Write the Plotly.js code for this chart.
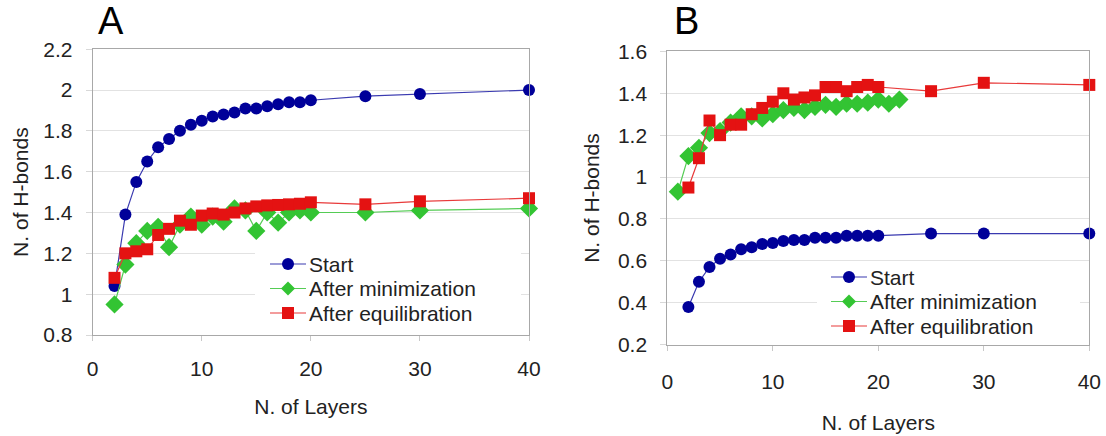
<!DOCTYPE html>
<html>
<head>
<meta charset="utf-8">
<script src="https://cdn.plot.ly/plotly-3.0.1.min.js"></script>
<style>html,body{margin:0;padding:0;background:#fff;}#chart{width:1106px;height:436px;}</style>
</head>
<body>
<div id="chart"></div>
<script>
// ---- Data ----
const seriesNames = ["Start", "After minimization", "After equilibration"];
const xTickVals = [0, 10, 20, 30, 40];

// Panel A
const xA_start = [2,3,4,5,6,7,8,9,10,11,12,13,14,15,16,17,18,19,20,25,30,40];
const yA_start = [1.04,1.39,1.55,1.65,1.72,1.76,1.80,1.83,1.85,1.87,1.88,1.89,1.91,1.91,1.92,1.93,1.94,1.94,1.95,1.97,1.98,2.00];
const xA_min = [2,3,4,5,6,7,8,9,10,11,12,13,14,15,16,17,18,19,20,25,30,40];
const yA_min = [0.95,1.145,1.25,1.31,1.33,1.23,1.34,1.38,1.34,1.38,1.355,1.42,1.41,1.31,1.40,1.35,1.40,1.41,1.40,1.40,1.41,1.42];
const xA_eq = [2,3,4,5,6,7,8,9,10,11,12,13,14,15,16,17,18,19,20,25,30,40];
const yA_eq = [1.08,1.20,1.21,1.22,1.29,1.32,1.36,1.34,1.385,1.395,1.39,1.40,1.42,1.43,1.435,1.437,1.44,1.443,1.45,1.44,1.455,1.47];

// Panel B
const xB_start = [2,3,4,5,6,7,8,9,10,11,12,13,14,15,16,17,18,19,20,25,30,40];
const yB_start = [0.38,0.50,0.57,0.61,0.63,0.655,0.665,0.68,0.685,0.695,0.70,0.70,0.71,0.71,0.71,0.72,0.72,0.72,0.72,0.73,0.73,0.73];
const xB_min = [1,2,3,4,5,6,7,8,9,10,11,12,13,14,15,16,17,18,19,20,21,22];
const yB_min = [0.93,1.10,1.14,1.21,1.22,1.26,1.29,1.29,1.28,1.30,1.32,1.33,1.32,1.335,1.345,1.335,1.35,1.35,1.355,1.37,1.35,1.37];
const xB_eq = [2,3,4,5,6,7,8,9,10,11,12,13,14,15,16,17,18,19,20,25,30,40];
const yB_eq = [0.95,1.09,1.27,1.20,1.25,1.25,1.30,1.33,1.36,1.40,1.37,1.38,1.39,1.43,1.43,1.41,1.43,1.44,1.43,1.41,1.45,1.44];

// ---- Styles ----
const W = 1106, H = 436;
const FONT = "Liberation Sans, Arial, sans-serif";
const TXT = "#222222";
const styles = [
  {marker: {symbol: "circle", size: 12, color: "#000099"}, line: {color: "#3a3ab0", width: 1.2}},
  {marker: {symbol: "diamond", size: 14, color: "#33c433"}, line: {color: "#55cc55", width: 1.2}},
  {marker: {symbol: "square", size: 12, color: "#e41212"}, line: {color: "#e83a3a", width: 1.2}}
];
const px = x => x / W;
const py = y => 1 - y / H;

function mk(x, y, i, xa, ya) {
  return {x: x, y: y, xaxis: xa, yaxis: ya, type: "scatter", mode: "lines+markers",
    name: seriesNames[i], marker: styles[i].marker, line: styles[i].line,
    showlegend: false, cliponaxis: false};
}

const traces = [
  mk(xA_start, yA_start, 0, "x", "y"),
  mk(xA_min, yA_min, 1, "x", "y"),
  mk(xA_eq, yA_eq, 2, "x", "y"),
  mk(xB_start, yB_start, 0, "x2", "y2"),
  mk(xB_min, yB_min, 1, "x2", "y2"),
  mk(xB_eq, yB_eq, 2, "x2", "y2")
];

function xaxisDef(domain, anchor, labelStandoff, standoff) {
  return {domain: domain, anchor: anchor, range: [0, 40], tickvals: xTickVals,
    showgrid: false, zeroline: false, showline: true, mirror: true,
    linecolor: "#a8a8a8", linewidth: 1, ticks: "outside", ticklen: 5, tickcolor: "#c8c8c8",
    ticklabelstandoff: labelStandoff,
    tickfont: {family: FONT, size: 21, color: TXT},
    title: {text: "N. of Layers", font: {family: FONT, size: 21, color: TXT}, standoff: standoff}};
}
function yaxisDef(domain, anchor, range, standoff) {
  return {domain: domain, anchor: anchor, range: range, dtick: 0.2, tick0: 0,
    showgrid: true, gridcolor: "#e2e2e2", gridwidth: 1, zeroline: false,
    showline: true, mirror: true, linecolor: "#a8a8a8", linewidth: 1,
    ticks: "outside", ticklen: 6, tickcolor: "#d8d8d8", ticklabelstandoff: 9,
    tickfont: {family: FONT, size: 21, color: TXT},
    title: {text: "N. of H-bonds", font: {family: FONT, size: 21, color: TXT}, standoff: standoff}};
}

// legend (drawn manually to match compact Excel legend)
const shapes = [];
const annotations = [];
function addLegend(boxX0, boxY0, boxX1, boxY1, markerX, rowYs) {
  shapes.push({type: "rect", xref: "paper", yref: "paper", x0: px(boxX0), x1: px(boxX1),
    y0: py(boxY1), y1: py(boxY0), fillcolor: "#ffffff", line: {width: 0}, layer: "above"});
  rowYs.forEach((ry, i) => {
    shapes.push({type: "line", xref: "paper", yref: "paper", x0: px(markerX - 18), x1: px(markerX + 18),
      y0: py(ry), y1: py(ry), line: {color: styles[i].line.color, width: 1.2}, layer: "above"});
    const c = styles[i].marker.color;
    if (i === 0) {
      shapes.push({type: "circle", xref: "paper", yref: "paper", x0: px(markerX - 6), x1: px(markerX + 6),
        y0: py(ry + 6), y1: py(ry - 6), fillcolor: c, line: {width: 0}, layer: "above"});
    } else if (i === 1) {
      const d = 7;
      shapes.push({type: "path", xref: "paper", yref: "paper",
        path: `M ${px(markerX - d)} ${py(ry)} L ${px(markerX)} ${py(ry - d)} L ${px(markerX + d)} ${py(ry)} L ${px(markerX)} ${py(ry + d)} Z`,
        fillcolor: c, line: {width: 0}, layer: "above"});
    } else {
      shapes.push({type: "rect", xref: "paper", yref: "paper", x0: px(markerX - 6), x1: px(markerX + 6),
        y0: py(ry + 6), y1: py(ry - 6), fillcolor: c, line: {width: 0}, layer: "above"});
    }
    annotations.push({xref: "paper", yref: "paper", x: px(markerX + 20), y: py(ry), xanchor: "left", yanchor: "middle",
      text: seriesNames[i], showarrow: false, borderpad: 0, font: {family: FONT, size: 21, color: TXT}});
  });
}
addLegend(255, 250, 521, 326, 288, [264, 288.5, 313]);
addLegend(817, 263, 1080, 337, 849, [277, 301.5, 326]);

annotations.push({xref: "paper", yref: "paper", x: px(96), y: py(44), xanchor: "left", yanchor: "bottom",
  text: "A", showarrow: false, font: {family: FONT, size: 38, color: "#000"}});
annotations.push({xref: "paper", yref: "paper", x: px(672), y: py(44), xanchor: "left", yanchor: "bottom",
  text: "B", showarrow: false, font: {family: FONT, size: 38, color: "#000"}});

const layout = {
  width: W, height: H,
  margin: {l: 0, r: 0, t: 0, b: 0},
  paper_bgcolor: "#ffffff", plot_bgcolor: "#ffffff",
  showlegend: false,
  xaxis: xaxisDef([px(92.7), px(529)], "y", 10, 20),
  yaxis: yaxisDef([py(335), py(49.2)], "x", [0.8, 2.2], 8),
  xaxis2: xaxisDef([px(667.3), px(1089.3)], "y2", 13, 23),
  yaxis2: yaxisDef([py(344.6), py(51.4)], "x2", [0.2, 1.6], 12),
  shapes: shapes,
  annotations: annotations
};

Plotly.newPlot("chart", traces, layout, {displayModeBar: false, staticPlot: true});
</script>
</body>
</html>
